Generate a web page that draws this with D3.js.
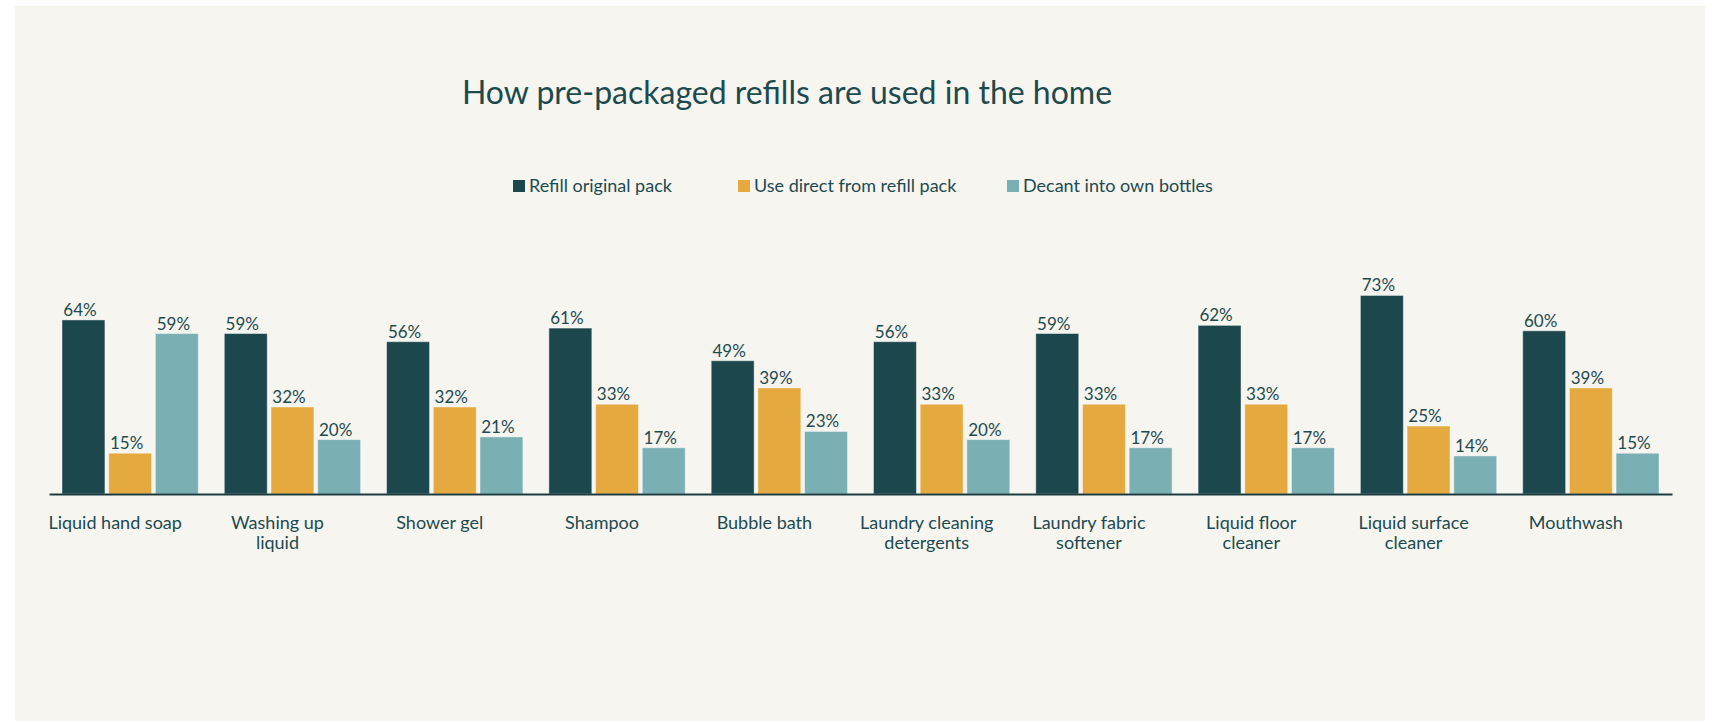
<!DOCTYPE html>
<html>
<head>
<meta charset="utf-8">
<script src="https://cdn.jsdelivr.net/npm/d3@7"></script>
<style>
  html, body { margin: 0; padding: 0; background: #ffffff; }
  svg { display: block; }
  text { font-family: Lato, "Open Sans", sans-serif; fill: #1d4a4f; }
</style>
</head>
<body>
<svg id="chart" width="1712" height="722"></svg>
<script>
// Products surveyed
const categories = [
  "Liquid hand soap", "Washing up liquid", "Shower gel", "Shampoo", "Bubble bath",
  "Laundry cleaning detergents", "Laundry fabric softener", "Liquid floor cleaner",
  "Liquid surface cleaner", "Mouthwash"
];
// How each product's label wraps under the axis
const categoryLines = [
  ["Liquid hand soap"], ["Washing up", "liquid"], ["Shower gel"], ["Shampoo"], ["Bubble bath"],
  ["Laundry cleaning", "detergents"], ["Laundry fabric", "softener"], ["Liquid floor", "cleaner"],
  ["Liquid surface", "cleaner"], ["Mouthwash"]
];
// Share of respondents (%) per usage
const refillOriginal = [64, 59, 56, 61, 49, 56, 59, 62, 73, 60];
const useDirect      = [15, 32, 32, 33, 39, 33, 33, 33, 25, 39];
const decantOwn      = [59, 20, 21, 17, 23, 20, 17, 17, 14, 15];

const seriesNames = ["Refill original pack", "Use direct from refill pack", "Decant into own bottles"];
const seriesValues = [refillOriginal, useDirect, decantOwn];
const colors = ["#1c474d", "#e4aa3f", "#7aafb3"];

const svg = d3.select("#chart");

// Panel background
svg.append("rect")
  .attr("x", 15).attr("y", 6).attr("width", 1690).attr("height", 715)
  .attr("fill", "#f7f5f0");

// Title
svg.append("text")
  .attr("x", 787).attr("y", 104)
  .attr("text-anchor", "middle")
  .attr("font-size", 32)
  .text("How pre-packaged refills are used in the home");

// Legend
const legendX = [513, 738, 1007];
const legend = svg.append("g");
seriesNames.forEach((name, i) => {
  const g = legend.append("g").attr("transform", `translate(${legendX[i]},180)`);
  g.append("rect").attr("width", 12).attr("height", 12).attr("fill", colors[i]);
  g.append("text").attr("x", 16).attr("y", 12).attr("font-size", 18).text(name);
});

// Scales
const axisY = 494;
const x0 = d3.scaleBand()
  .domain(categories)
  .range([49, 1672])
  .paddingInner(0.16)
  .paddingOuter(0.08);
const x1 = d3.scaleBand()
  .domain(d3.range(3))
  .range([0, x0.bandwidth()])
  .paddingInner(0.08);
const y = d3.scaleLinear().domain([0, 100]).range([axisY, axisY - 272]);

const rows = categories.map((c, i) => ({
  category: c,
  lines: categoryLines[i],
  values: seriesValues.map(s => s[i])
}));

const groups = svg.append("g").selectAll("g")
  .data(rows)
  .join("g")
  .attr("transform", d => `translate(${x0(d.category)},0)`);

const bars = groups.selectAll("g.bar")
  .data(d => d.values.map((v, k) => ({ k, v })))
  .join("g").attr("class", "bar");

bars.append("rect")
  .attr("x", d => x1(d.k))
  .attr("y", d => y(d.v))
  .attr("width", x1.bandwidth())
  .attr("height", d => y(0) - y(d.v))
  .attr("fill", d => colors[d.k])
  .attr("stroke", "#ffffff")
  .attr("stroke-opacity", 0.45)
  .attr("stroke-width", 1);

bars.append("text")
  .attr("x", d => x1(d.k) + x1.bandwidth() / 2 - 3.5)
  .attr("y", d => y(d.v) - 4)
  .attr("text-anchor", "middle")
  .attr("font-size", 17)
  .text(d => d.v + "%");

// Axis baseline
const xAxis = d3.axisBottom(x0).tickSize(0).tickFormat("");
const axisG = svg.append("g").attr("transform", `translate(0,${axisY})`).call(xAxis);
axisG.select(".domain").attr("stroke", "#1d3c40").attr("stroke-width", 2);

// Category labels
groups.append("text")
  .attr("text-anchor", "middle")
  .attr("font-size", 18)
  .selectAll("tspan")
  .data(d => d.lines)
  .join("tspan")
  .attr("x", x0.bandwidth() / 2 - 15)
  .attr("y", (d, i) => 529 + i * 19.5)
  .text(d => d);
</script>
</body>
</html>
